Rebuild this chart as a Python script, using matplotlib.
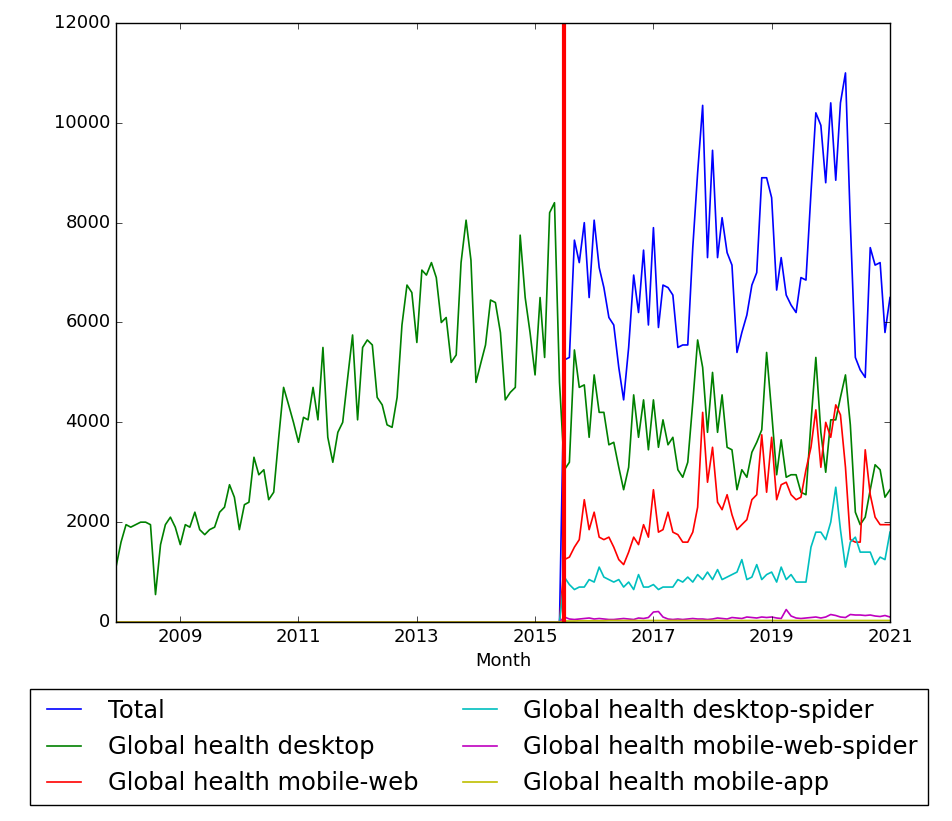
import matplotlib
matplotlib.use("Agg")
import matplotlib.pyplot as plt
import pandas as pd

desktop_early = [1100,1600,1950,1900,1950,2000,2000,1950,550,1550,
 1950,2100,1900,1550,1950,1900,2200,1850,1750,1850,
 1900,2200,2300,2750,2500,1850,2350,2400,3300,2950,
 3050,2450,2600,3700,4700,4350,4000,3600,4100,4050,
 4700,4050,5500,3700,3200,3800,4000,4900,5750,4050,
 5500,5650,5550,4500,4350,3950,3900,4500,5950,6750,
 6600,5600,7050,6950,7200,6900,6000,6100,5200,5350,
 7200,8050,7250,4800,5200,5550,6450,6400,5800,4450,
 4600,4700,7750,6500,5800,4950,6500,5300,8200,8400,4800]
total = [5250,5300,7650,7200,8000,6500,8050,7100,6700,6100,
 5950,5100,4450,5500,6950,6200,7450,5950,7900,5900,
 6750,6700,6550,5500,5550,5550,7500,9000,10350,7300,
 9450,7300,8100,7400,7150,5400,5800,6150,6750,7000,
 8900,8900,8500,6650,7300,6550,6350,6200,6900,6850,
 8600,10200,9950,8800,10400,8850,10400,11000,8000,5300,
 5050,4900,7500,7150,7200,5800,6500]
desktop_late = [3050,3200,5450,4700,4750,3700,4950,4200,4200,3550,
 3600,3100,2650,3100,4550,3700,4450,3450,4450,3500,
 4050,3550,3700,3050,2900,3200,4400,5650,5100,3800,
 5000,3800,4550,3500,3450,2650,3050,2900,3400,3600,
 3850,5400,4200,2950,3650,2900,2950,2950,2600,2550,
 4000,5300,3800,3000,4050,4050,4500,4950,3950,2200,
 1950,2100,2650,3150,3050,2500,2650]
mobile_web = [1250,1300,1500,1650,2450,1850,2200,1700,1650,1700,
 1500,1250,1150,1400,1700,1550,1950,1700,2650,1800,
 1850,2200,1800,1750,1600,1600,1800,2300,4200,2800,
 3500,2400,2250,2550,2150,1850,1950,2050,2450,2550,
 3750,2600,3700,2450,2750,2800,2550,2450,2500,3050,
 3500,4250,3100,4000,3700,4350,4150,3100,1650,1600,
 1600,3450,2550,2100,1950,1950,1950]
desktop_spider = [900,750,650,700,700,850,800,1100,900,850,
 800,850,700,800,650,950,700,700,750,650,
 700,700,700,850,800,900,800,950,850,1000,
 850,1050,850,900,950,1000,1250,850,900,1150,
 850,950,1000,800,1100,850,950,800,800,800,
 1500,1800,1800,1650,2000,2700,1850,1100,1600,1700,
 1400,1400,1400,1150,1300,1250,1800]
mw_spider = [100,60,50,60,70,80,60,70,60,50,
 50,60,70,60,50,80,70,90,200,210,
 100,60,50,60,50,60,70,60,60,50,
 60,80,70,60,90,80,70,100,90,80,
 100,90,100,80,70,250,120,80,70,80,
 90,100,80,100,150,130,100,90,150,140,
 140,130,140,120,110,130,100]
mobile_app = [20,20,20,25,25,25,25,25,25,30,
 30,30,30,30,30,30,30,30,30,30,
 30,30,30,30,30,30,30,30,30,30,
 30,30,30,30,30,30,30,30,30,30,
 30,30,30,30,30,30,30,30,30,30,
 30,30,30,30,30,30,30,30,30,30,
 30,30,30,30,30,30,30]
year_ticks = ['2009', '2011', '2013', '2015', '2017', '2019', '2021']

plt.style.use('classic')
early = pd.date_range('2007-12-01', periods=len(desktop_early), freq='MS')
late = pd.date_range('2015-07-01', periods=len(total), freq='MS')
zero_early = [0]*len(desktop_early)
dates = list(early) + list(late)

fig = plt.figure(figsize=(9.53, 8.21), dpi=100)
ax = fig.add_axes([116/953, 1-622/821, 774/953, 599/821])
lw = 1.2
ax.plot(dates, zero_early+total, color='b', lw=lw, label='Total')
ax.plot(dates, desktop_early+desktop_late, color='g', lw=lw, label='Global health desktop')
ax.plot(dates, zero_early+mobile_web, color='r', lw=lw, label='Global health mobile-web')
ax.plot(dates, zero_early+desktop_spider, color='c', lw=lw, label='Global health desktop-spider')
ax.plot(dates, zero_early+mw_spider, color='m', lw=lw, label='Global health mobile-web-spider')
ax.plot(dates, zero_early+mobile_app, color='y', lw=lw, label='Global health mobile-app')
ax.axvline(pd.Timestamp('2015-07-01'), color='red', linewidth=3)
ax.set_xlim(pd.Timestamp('2007-12-01'), pd.Timestamp('2021-01-01'))
ax.set_xticks([pd.Timestamp(y + '-01-01') for y in year_ticks])
ax.set_xticklabels(year_ticks)
ax.set_ylim(0, 12000)
ax.set_xlabel('Month', fontsize=13)
ax.tick_params(labelsize=13)
ax.legend(loc='upper center', bbox_to_anchor=(0.469, -0.1), ncol=2, fontsize=17.5,
          frameon=True, columnspacing=1.5, borderaxespad=0.3)
fig.savefig('out.png', dpi=100)
